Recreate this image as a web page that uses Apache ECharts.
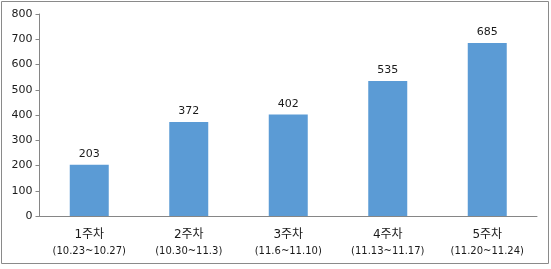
<!DOCTYPE html>
<html><head><meta charset="utf-8">
<script src="https://cdn.jsdelivr.net/npm/echarts@6/dist/echarts.min.js"></script>
<style>html,body{margin:0;padding:0;background:#fff}#c{width:551px;height:269px}</style>
</head><body><div id="c"></div>
<script>
const weeks = ['1주차', '2주차', '3주차', '4주차', '5주차'];
const ranges = ['(10.23~10.27)', '(10.30~11.3)', '(11.6~11.10)', '(11.13~11.17)', '(11.20~11.24)'];
const values = [203, 372, 402, 535, 685];
const yTicks = { min: 0, max: 800, interval: 100 };

const categories = weeks.map((w, i) => '{w|' + w + '}\n{r|' + ranges[i] + '}');
const chart = echarts.init(document.getElementById('c'), null, { renderer: 'canvas' });
const font = "'DejaVu Sans', 'Noto Sans CJK KR', sans-serif";
chart.setOption({
  animation: false,
  graphic: [{
    type: 'rect', shape: { x: 1.5, y: 1.5, width: 547, height: 262 },
    style: { fill: 'none', stroke: '#8a8a8a', lineWidth: 1 }, silent: true, z: -1
  }],
  grid: { left: 39.5, right: 14, top: 14, bottom: 53 },
  xAxis: {
    type: 'category', data: categories,
    axisLine: { lineStyle: { color: '#868686' } },
    axisTick: { show: false },
    axisLabel: {
      color: '#1a1a1a', fontFamily: font, margin: 10, interval: 0,
      rich: {
        w: { fontFamily: font, fontSize: 12, lineHeight: 17, color: '#1a1a1a' },
        r: { fontFamily: font, fontSize: 10, lineHeight: 17, color: '#1a1a1a' }
      }
    }
  },
  yAxis: {
    type: 'value', min: yTicks.min, max: yTicks.max, interval: yTicks.interval,
    axisLine: { show: true, lineStyle: { color: '#868686' } },
    axisTick: { show: true, length: 4, lineStyle: { color: '#868686' } },
    splitLine: { show: false },
    axisLabel: { color: '#1a1a1a', fontFamily: font, fontSize: 11, margin: 7 }
  },
  series: [{
    type: 'bar', data: values, barWidth: 39,
    itemStyle: { color: '#5B9BD5' },
    label: { show: true, position: 'top', distance: 5, color: '#1a1a1a', fontFamily: font, fontSize: 11 }
  }]
});
</script></body></html>
